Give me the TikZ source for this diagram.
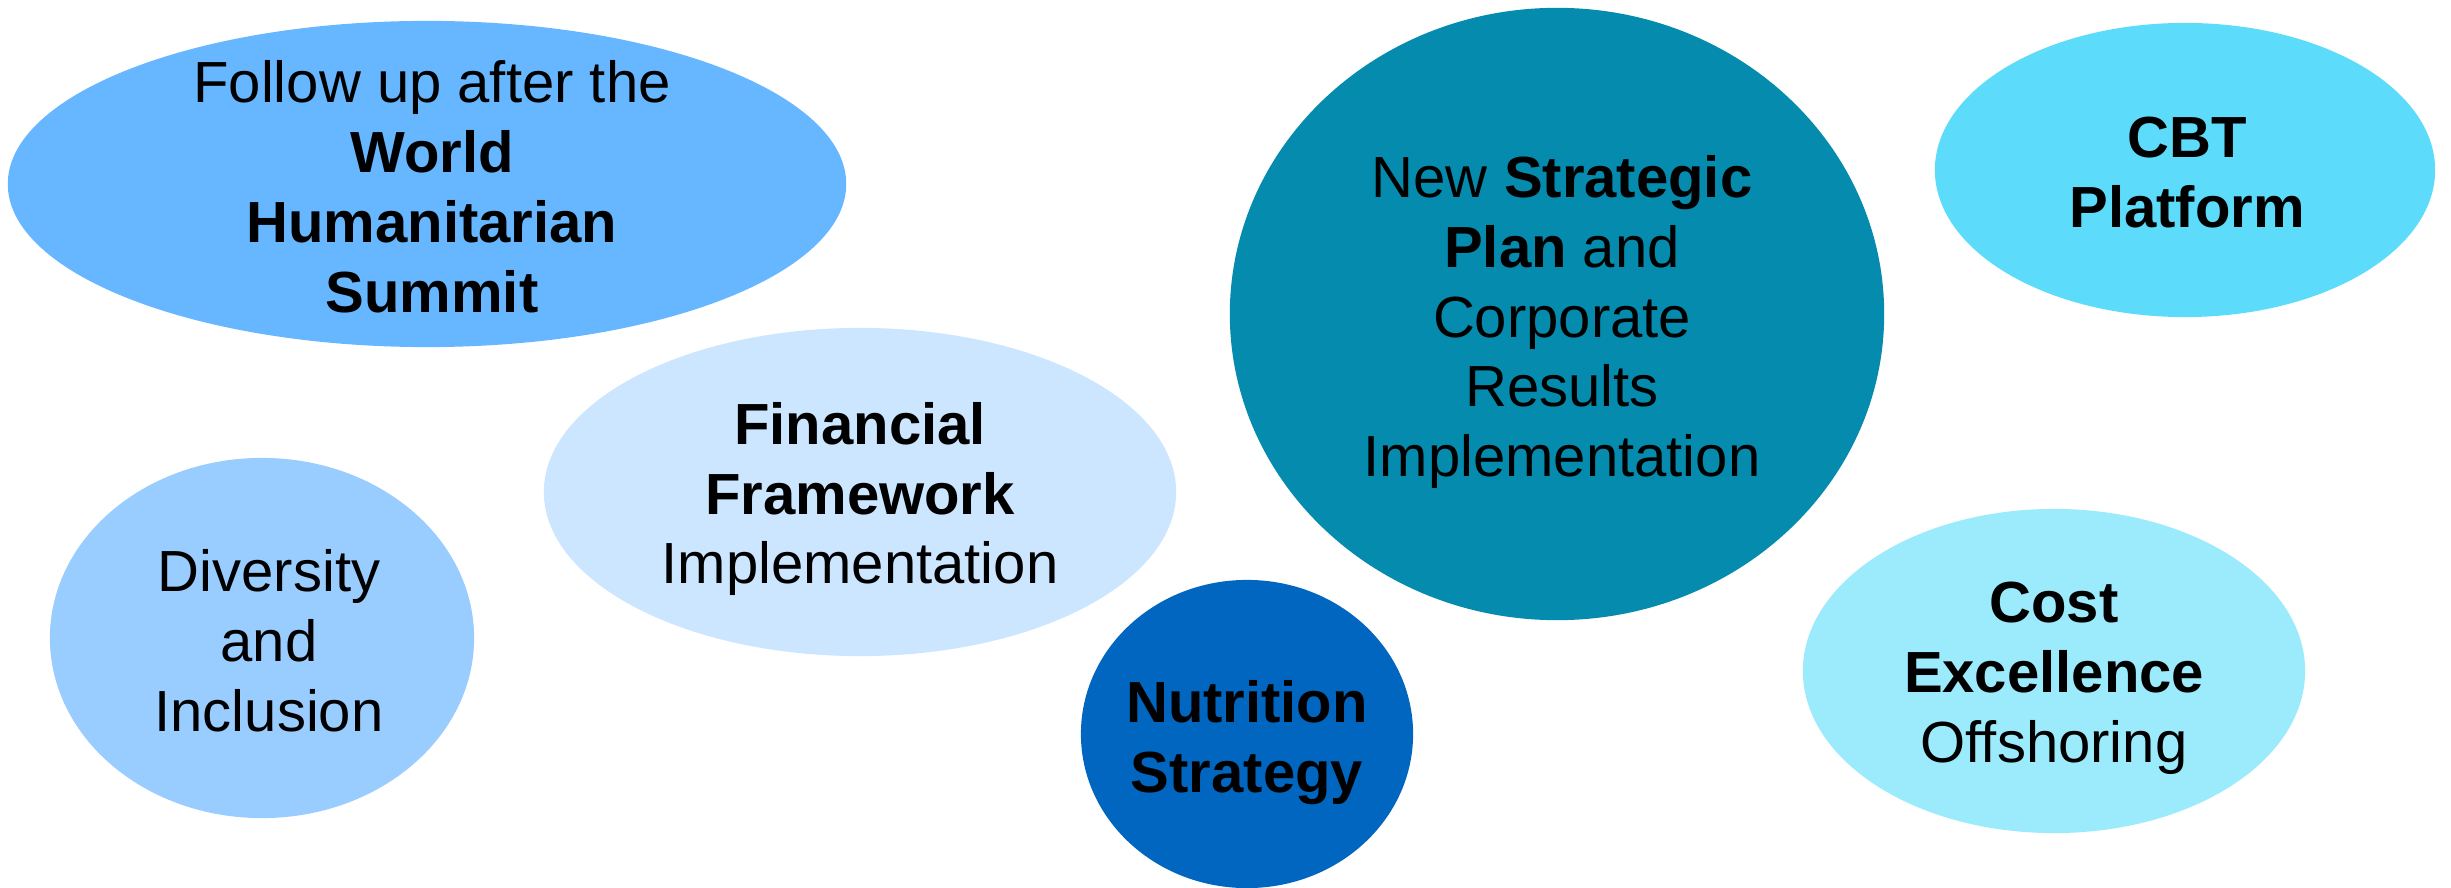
\documentclass[tikz,border=0pt]{standalone}
\usepackage{fontspec}
\setmainfont{Liberation Sans}
\usetikzlibrary{shapes.geometric}
\definecolor{cwhs}{RGB}{102,183,255}
\definecolor{cfin}{RGB}{204,230,255}
\definecolor{cdiv}{RGB}{153,204,255}
\definecolor{cnut}{RGB}{0,102,192}
\definecolor{cstr}{RGB}{4,139,173}
\definecolor{ccbt}{RGB}{93,219,250}
\definecolor{ccost}{RGB}{155,235,252}
\tikzset{
  bubble/.style={ellipse, inner sep=0pt, outer sep=0pt, draw=none},
  label/.style={align=center, inner sep=0pt, text=black,
    font=\fontsize{16.5}{19.9}\selectfont}
}
\begin{document}
\begin{tikzpicture}[x=0.01cm,y=-0.01cm]
\useasboundingbox (0,0) rectangle (2451,888);
% bubbles
\node[bubble, fill=cwhs, minimum width=8.38cm, minimum height=3.26cm] (whs) at (427,184) {};
\node[bubble, fill=cfin, minimum width=6.32cm, minimum height=3.28cm] (fin) at (860,492) {};
\node[bubble, fill=cdiv, minimum width=4.24cm, minimum height=3.60cm] (div) at (262,638) {};
\node[bubble, fill=cnut, minimum width=3.32cm, minimum height=3.08cm] (nut) at (1247,734) {};
\node[bubble, fill=cstr, minimum width=6.54cm, minimum height=6.12cm] (str) at (1557,314) {};
\node[bubble, fill=ccbt, minimum width=5.00cm, minimum height=2.94cm] (cbt) at (2185,170) {};
\node[bubble, fill=ccost, minimum width=5.02cm, minimum height=3.24cm] (cost) at (2054,671) {};
% texts
\node[label] (twhs) at ([xshift=0.05cm,yshift=-0.03cm]whs.center) {Follow up after the\\\textbf{World}\\\textbf{Humanitarian}\\\textbf{Summit}};
\node[label] (tfin) at ([yshift=-0.07cm]fin.center) {\textbf{Financial}\\\textbf{Framework}\\Implementation};
\node[label] (tdiv) at ([xshift=0.07cm,yshift=-0.03cm]div.center) {Diversity\\and\\Inclusion};
\node[label] (tnut) at ([yshift=-0.09cm]nut.center) {\textbf{Nutrition}\\\textbf{Strategy}};
\node[label] (tstr) at ([xshift=0.05cm,yshift=-0.08cm]str.center) {New \textbf{Strategic}\\\textbf{Plan} and\\Corporate\\Results\\Implementation};
\node[label] (tcbt) at ([xshift=0.02cm,yshift=-0.03cm]cbt.center) {\textbf{CBT}\\\textbf{Platform}};
\node[label] (tcost) at ([yshift=-0.07cm]cost.center) {\textbf{Cost}\\\textbf{Excellence}\\Offshoring};
\end{tikzpicture}
\end{document}
